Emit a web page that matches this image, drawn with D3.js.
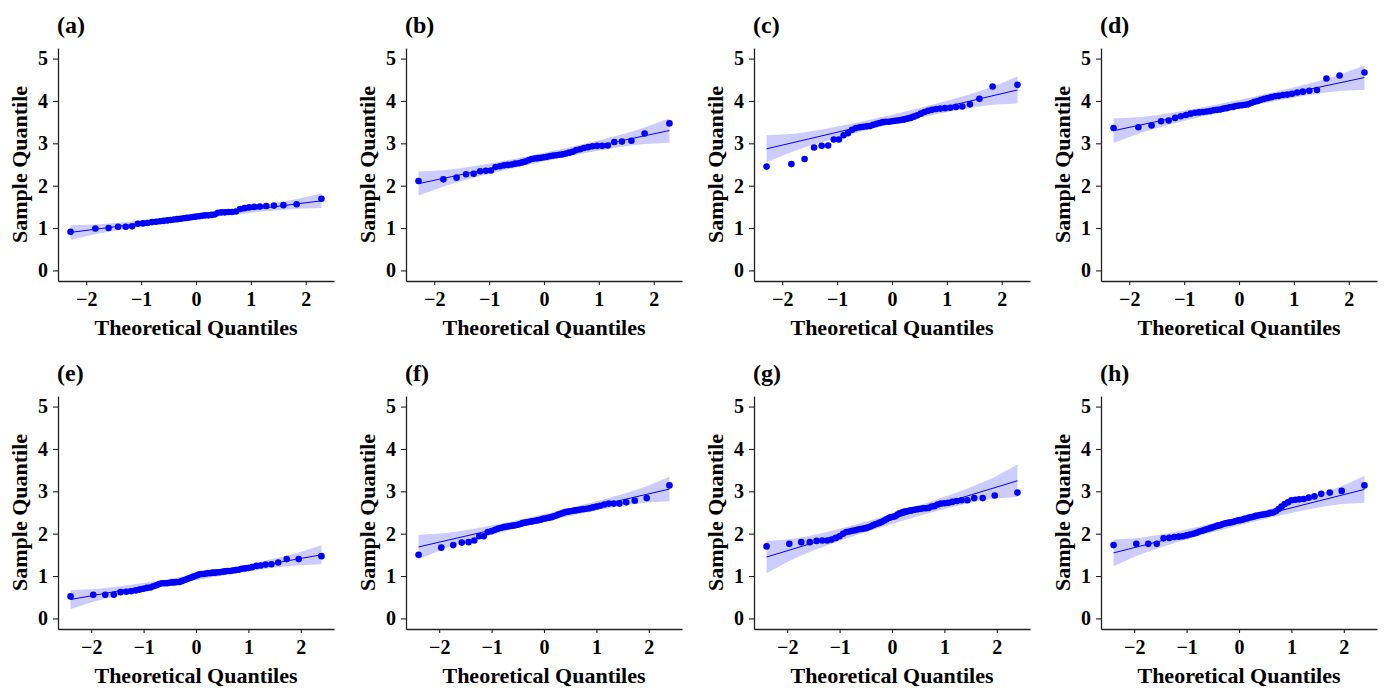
<!DOCTYPE html>
<html>
<head>
<meta charset="utf-8">
<script src="https://cdn.jsdelivr.net/npm/d3@7"></script>
<style>
  body { margin: 0; background: #fff; }
  svg text { font-family: "Liberation Serif", "Times New Roman", serif; font-weight: bold; fill: #000; }
  .tick text { font-size: 20px; }
  .axis-title { font-size: 22px; }
  .panel-label { font-size: 24px; }
</style>
</head>
<body>
<svg id="chart" width="1384" height="688"></svg>
<script>
// Sorted sample values for each panel (top row n = 45, bottom row n = 60)
const panelLabels = ["(a)", "(b)", "(c)", "(d)", "(e)", "(f)", "(g)", "(h)"];

const sampleA = [0.91, 0.99, 1.00, 1.03, 1.03, 1.04, 1.10, 1.11, 1.12, 1.14, 1.15, 1.16, 1.17, 1.18, 1.19,
  1.20, 1.21, 1.22, 1.23, 1.24, 1.25, 1.26, 1.27, 1.28, 1.29, 1.30, 1.30, 1.31, 1.32, 1.36,
  1.37, 1.37, 1.38, 1.38, 1.39, 1.45, 1.47, 1.49, 1.50, 1.51, 1.52, 1.53, 1.54, 1.56, 1.69];

const sampleB = [2.11, 2.15, 2.19, 2.27, 2.28, 2.34, 2.35, 2.36, 2.44, 2.46, 2.48, 2.49, 2.50, 2.52, 2.53,
  2.55, 2.57, 2.60, 2.63, 2.64, 2.65, 2.66, 2.67, 2.68, 2.70, 2.71, 2.72, 2.73, 2.74, 2.76,
  2.78, 2.80, 2.84, 2.86, 2.89, 2.91, 2.93, 2.94, 2.94, 2.95, 3.03, 3.04, 3.06, 3.23, 3.47];

const sampleC = [2.45, 2.51, 2.63, 2.90, 2.94, 2.95, 3.09, 3.09, 3.19, 3.24, 3.32, 3.36, 3.38, 3.39, 3.40,
  3.41, 3.44, 3.46, 3.48, 3.50, 3.51, 3.51, 3.52, 3.53, 3.54, 3.55, 3.56, 3.58, 3.60, 3.63,
  3.66, 3.70, 3.74, 3.77, 3.79, 3.81, 3.82, 3.83, 3.84, 3.86, 3.87, 3.92, 4.05, 4.34, 4.38];

const sampleD = [3.36, 3.38, 3.42, 3.52, 3.54, 3.60, 3.64, 3.67, 3.70, 3.72, 3.73, 3.74, 3.75, 3.76, 3.78,
  3.79, 3.80, 3.82, 3.83, 3.85, 3.86, 3.88, 3.89, 3.90, 3.91, 3.92, 3.95, 3.98, 4.00, 4.03,
  4.05, 4.07, 4.09, 4.11, 4.12, 4.14, 4.15, 4.17, 4.20, 4.22, 4.24, 4.26, 4.53, 4.60, 4.67];

const sampleE = [0.52, 0.56, 0.56, 0.56, 0.62, 0.63, 0.64, 0.66, 0.68, 0.70,
  0.72, 0.73, 0.76, 0.78, 0.81, 0.83, 0.83, 0.83, 0.84, 0.85,
  0.85, 0.86, 0.86, 0.88, 0.90, 0.92, 0.94, 0.96, 0.98, 1.00,
  1.02, 1.04, 1.05, 1.05, 1.06, 1.07, 1.07, 1.08, 1.08, 1.09,
  1.09, 1.10, 1.11, 1.12, 1.12, 1.13, 1.14, 1.15, 1.17, 1.18,
  1.19, 1.21, 1.24, 1.25, 1.27, 1.28, 1.32, 1.40, 1.40, 1.47];

const sampleF = [1.50, 1.67, 1.73, 1.79, 1.80, 1.84, 1.94, 1.94, 2.04, 2.06,
  2.09, 2.12, 2.14, 2.16, 2.17, 2.18, 2.19, 2.20, 2.21, 2.23,
  2.25, 2.26, 2.27, 2.28, 2.29, 2.30, 2.31, 2.32, 2.33, 2.35,
  2.36, 2.37, 2.38, 2.39, 2.41, 2.43, 2.45, 2.47, 2.49, 2.51,
  2.52, 2.53, 2.54, 2.55, 2.56, 2.57, 2.58, 2.59, 2.60, 2.62,
  2.64, 2.66, 2.69, 2.71, 2.71, 2.71, 2.74, 2.78, 2.84, 3.14];

const sampleG = [1.70, 1.76, 1.80, 1.80, 1.83, 1.84, 1.84, 1.86, 1.90, 1.94,
  2.00, 2.04, 2.05, 2.07, 2.08, 2.10, 2.11, 2.12, 2.13, 2.15,
  2.17, 2.20, 2.22, 2.24, 2.26, 2.28, 2.31, 2.34, 2.37, 2.39,
  2.40, 2.41, 2.45, 2.48, 2.50, 2.52, 2.53, 2.54, 2.55, 2.56,
  2.57, 2.58, 2.59, 2.60, 2.60, 2.61, 2.64, 2.65, 2.69, 2.71,
  2.72, 2.73, 2.75, 2.77, 2.79, 2.79, 2.84, 2.84, 2.90, 2.97];

const sampleH = [1.73, 1.76, 1.76, 1.76, 1.89, 1.90, 1.92, 1.93, 1.94, 1.96,
  1.98, 2.00, 2.02, 2.05, 2.07, 2.09, 2.11, 2.13, 2.15, 2.17,
  2.19, 2.20, 2.22, 2.24, 2.25, 2.26, 2.27, 2.28, 2.30, 2.31,
  2.32, 2.33, 2.35, 2.36, 2.38, 2.39, 2.40, 2.42, 2.43, 2.44,
  2.45, 2.46, 2.47, 2.49, 2.50, 2.53, 2.58, 2.64, 2.70, 2.74,
  2.79, 2.80, 2.81, 2.82, 2.85, 2.88, 2.94, 2.97, 3.01, 3.14];

const samples = [sampleA, sampleB, sampleC, sampleD, sampleE, sampleF, sampleG, sampleH];

const xTicks = [-2, -1, 0, 1, 2];
const yTicks = [0, 1, 2, 3, 4, 5];
const yLimits = [0, 5];
const xTitle = "Theoretical Quantiles";
const yTitle = "Sample Quantile";
const confLevel = 0.95;

// ---- normal distribution helpers (Acklam's inverse normal CDF) ----
function qnorm(p) {
  const a = [-3.969683028665376e+01, 2.209460984245205e+02, -2.759285104469687e+02,
             1.383577518672690e+02, -3.066479806614716e+01, 2.506628277459239e+00];
  const b = [-5.447609879822406e+01, 1.615858368580409e+02, -1.556989798598866e+02,
             6.680131188771972e+01, -1.328068155288572e+01];
  const c = [-7.784894002430293e-03, -3.223964580411365e-01, -2.400758277161838e+00,
             -2.549732539343734e+00, 4.374664141464968e+00, 2.938163982698783e+00];
  const d = [7.784695709041462e-03, 3.224671290700398e-01, 2.445134137142996e+00,
             3.754408661907416e+00];
  const pl = 0.02425, ph = 1 - pl;
  let q, r;
  if (p < pl) {
    q = Math.sqrt(-2 * Math.log(p));
    return (((((c[0]*q + c[1])*q + c[2])*q + c[3])*q + c[4])*q + c[5]) /
           ((((d[0]*q + d[1])*q + d[2])*q + d[3])*q + 1);
  }
  if (p > ph) {
    q = Math.sqrt(-2 * Math.log(1 - p));
    return -(((((c[0]*q + c[1])*q + c[2])*q + c[3])*q + c[4])*q + c[5]) /
            ((((d[0]*q + d[1])*q + d[2])*q + d[3])*q + 1);
  }
  q = p - 0.5; r = q * q;
  return (((((a[0]*r + a[1])*r + a[2])*r + a[3])*r + a[4])*r + a[5]) * q /
         (((((b[0]*r + b[1])*r + b[2])*r + b[3])*r + b[4])*r + 1);
}
const dnorm = x => Math.exp(-x * x / 2) / Math.sqrt(2 * Math.PI);
const ppoints = n => { const a = n <= 10 ? 3 / 8 : 0.5; return d3.range(1, n + 1).map(i => (i - a) / (n + 1 - 2 * a)); };

// Q-Q points, quartile reference line and pointwise confidence band
function qqStats(sample) {
  const y = sample.slice().sort(d3.ascending);
  const n = y.length;
  const P = ppoints(n);
  const z = P.map(qnorm);
  const y1 = d3.quantile(y, 0.25), y2 = d3.quantile(y, 0.75);
  const x1 = qnorm(0.25), x2 = qnorm(0.75);
  const slope = (y2 - y1) / (x2 - x1);
  const intercept = y1 - slope * x1;
  const zz = qnorm(1 - (1 - confLevel) / 2);
  return y.map((v, i) => {
    const fit = intercept + slope * z[i];
    const se = (slope / dnorm(z[i])) * Math.sqrt(P[i] * (1 - P[i]) / n);
    return { x: z[i], y: v, fit: fit, lo: fit - zz * se, hi: fit + zz * se };
  });
}

// ---- layout ----
const svg = d3.select("#chart");
const colX = [58, 406, 754, 1101];
const rowY = [48, 396];
const plotW = 276, plotH = 233;
const blue = "#0000ff";

samples.forEach((sample, k) => {
  const left = colX[k % 4], top = rowY[Math.floor(k / 4)];
  const g = svg.append("g").attr("transform", `translate(${left},${top})`);
  const pts = qqStats(sample);

  const xExt = d3.extent(pts, d => d.x);
  const xPad = (xExt[1] - xExt[0]) * 0.05;
  const x = d3.scaleLinear().domain([xExt[0] - xPad, xExt[1] + xPad]).range([0, plotW]);
  const yPad = (yLimits[1] - yLimits[0]) * 0.05;
  const y = d3.scaleLinear().domain([yLimits[0] - yPad, yLimits[1] + yPad]).range([plotH, 0]);

  // confidence band
  const band = d3.area().x(d => x(d.x)).y0(d => y(d.lo)).y1(d => y(d.hi));
  g.append("path").datum(pts).attr("d", band)
    .attr("fill", blue).attr("fill-opacity", 0.2).attr("stroke", "none");

  // reference line
  const line = d3.line().x(d => x(d.x)).y(d => y(d.fit));
  g.append("path").datum([pts[0], pts[pts.length - 1]]).attr("d", line)
    .attr("fill", "none").attr("stroke", blue).attr("stroke-width", 1);

  // sample points
  g.selectAll("circle.pt").data(pts).join("circle").attr("class", "pt")
    .attr("cx", d => x(d.x)).attr("cy", d => y(d.y)).attr("r", 3.3)
    .attr("fill", blue);

  // axes
  const xAxis = g.append("g").attr("transform", `translate(0,${plotH})`)
    .call(d3.axisBottom(x).tickValues(xTicks).tickFormat(d3.format("d"))
      .tickSize(4).tickSizeOuter(0).tickPadding(7));
  const yAxis = g.append("g")
    .call(d3.axisLeft(y).tickValues(yTicks).tickFormat(d3.format("d"))
      .tickSize(5).tickSizeOuter(0).tickPadding(5));
  [xAxis, yAxis].forEach(ax => {
    ax.attr("font-size", null).attr("font-family", null);
    ax.select(".domain").attr("stroke", "#222").attr("stroke-width", 1.3);
    ax.selectAll(".tick line").attr("stroke", "#222").attr("stroke-width", 1.1);
  });

  // titles
  g.append("text").attr("class", "axis-title")
    .attr("x", plotW / 2).attr("y", plotH + 54).attr("text-anchor", "middle").text(xTitle);
  g.append("text").attr("class", "axis-title")
    .attr("transform", `translate(-31,${plotH / 2}) rotate(-90)`)
    .attr("text-anchor", "middle").text(yTitle);
  g.append("text").attr("class", "panel-label")
    .attr("x", -1).attr("y", -15).text(panelLabels[k]);
});
</script>
</body>
</html>
